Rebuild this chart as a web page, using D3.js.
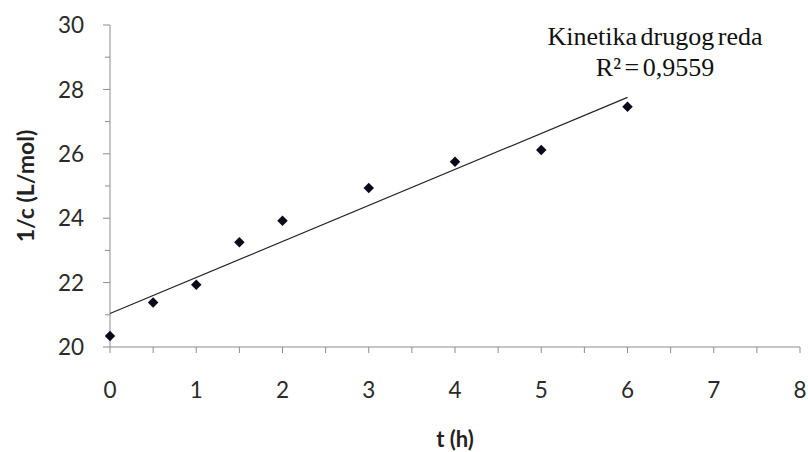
<!DOCTYPE html>
<html>
<head>
<meta charset="utf-8">
<script src="https://cdn.jsdelivr.net/npm/d3@7"></script>
<style>
  body { margin: 0; background: #fff; }
  svg { display: block; }
</style>
</head>
<body>
<svg id="chart" width="808" height="452"></svg>
<script>
// Measured time points (h) and inverse concentration 1/c (L/mol)
const times = [0, 0.5, 1, 1.5, 2, 3, 4, 5, 6];
const invConc = [20.34, 21.38, 21.93, 23.25, 23.92, 24.94, 25.75, 26.12, 27.46];
const xTicks = [0, 1, 2, 3, 4, 5, 6, 7, 8];
const yTicks = [20, 22, 24, 26, 28, 30];
const fitTitle = "Kinetika drugog reda";
const fitR2 = "0,9559";

const svg = d3.select("#chart");
const x = d3.scaleLinear().domain([0, 8]).range([110, 800]);
const y = d3.scaleLinear().domain([20, 30]).range([347, 25]);

const axisColor = "#8c8c8c";
const labelFont = "Lato, 'Open Sans', sans-serif";

// Y axis: major ticks every 2, minor ticks every 1
const yAxis = svg.append("g").attr("transform", `translate(${x(0)},0)`);
yAxis.append("line").attr("x1", 0).attr("x2", 0).attr("y1", y(20)).attr("y2", y(30))
  .attr("stroke", axisColor).attr("stroke-width", 1);
yAxis.selectAll("line.minor").data(d3.range(21, 30, 2)).join("line").attr("class", "minor")
  .attr("x1", -5).attr("x2", 0).attr("y1", d => y(d)).attr("y2", d => y(d))
  .attr("stroke", axisColor);
yAxis.selectAll("line.major").data(yTicks).join("line").attr("class", "major")
  .attr("x1", -7).attr("x2", 0).attr("y1", d => y(d)).attr("y2", d => y(d))
  .attr("stroke", axisColor);
yAxis.selectAll("text").data(yTicks).join("text")
  .attr("x", -26).attr("y", d => y(d)).attr("dy", "0.36em")
  .attr("text-anchor", "end").attr("font-family", labelFont).attr("font-size", 22.5)
  .attr("fill", "#2a2a2a").text(d => d);

// X axis: major ticks every 1, minor ticks every 0.5
const xAxis = svg.append("g").attr("transform", `translate(0,${y(20)})`);
xAxis.append("line").attr("x1", x(0)).attr("x2", x(8)).attr("y1", 0).attr("y2", 0)
  .attr("stroke", axisColor);
xAxis.selectAll("line.tick").data(d3.range(0, 8.01, 0.5)).join("line").attr("class", "tick")
  .attr("x1", d => x(d)).attr("x2", d => x(d)).attr("y1", 0).attr("y2", 6)
  .attr("stroke", axisColor);
xAxis.selectAll("text").data(xTicks).join("text")
  .attr("x", d => x(d)).attr("y", 51)
  .attr("text-anchor", "middle").attr("font-family", labelFont).attr("font-size", 22.5)
  .attr("fill", "#2a2a2a").text(d => d);

// Axis titles
svg.append("text").attr("x", 455).attr("y", 447).attr("text-anchor", "middle")
  .attr("font-family", labelFont).attr("font-weight", "bold").attr("font-size", 22)
  .attr("fill", "#222").text("t (h)");
svg.append("text").attr("transform", "translate(34,186) rotate(-90)")
  .attr("text-anchor", "middle").attr("font-family", labelFont).attr("font-weight", "bold")
  .attr("font-size", 23).attr("fill", "#222").text("1/c (L/mol)");

// Least-squares linear trendline over the data
const mx = d3.mean(times), my = d3.mean(invConc);
const sxy = d3.sum(times, (t, i) => (t - mx) * (invConc[i] - my));
const sxx = d3.sum(times, t => (t - mx) ** 2);
const slope = sxy / sxx, intercept = my - slope * mx;
const tMax = d3.max(times);
svg.append("line")
  .attr("x1", x(0)).attr("y1", y(intercept))
  .attr("x2", x(tMax)).attr("y2", y(intercept + slope * tMax))
  .attr("stroke", "#222").attr("stroke-width", 1.2);

// Data markers (diamonds)
svg.selectAll("path.pt").data(times).join("path").attr("class", "pt")
  .attr("d", d3.symbol().type(d3.symbolDiamond2).size(70))
  .attr("transform", (t, i) => `translate(${x(t)},${y(invConc[i])})`)
  .attr("fill", "#0a0a1a");

// Trendline label
const lbl = svg.append("text").attr("text-anchor", "middle")
  .attr("font-family", "'Liberation Serif', 'Times New Roman', serif").attr("font-size", 26)
  .attr("word-spacing", -3).attr("fill", "#111");
lbl.append("tspan").attr("x", 655).attr("y", 45).text(fitTitle);
lbl.append("tspan").attr("x", 655).attr("y", 76).text("R² = " + fitR2);
</script>
</body>
</html>
